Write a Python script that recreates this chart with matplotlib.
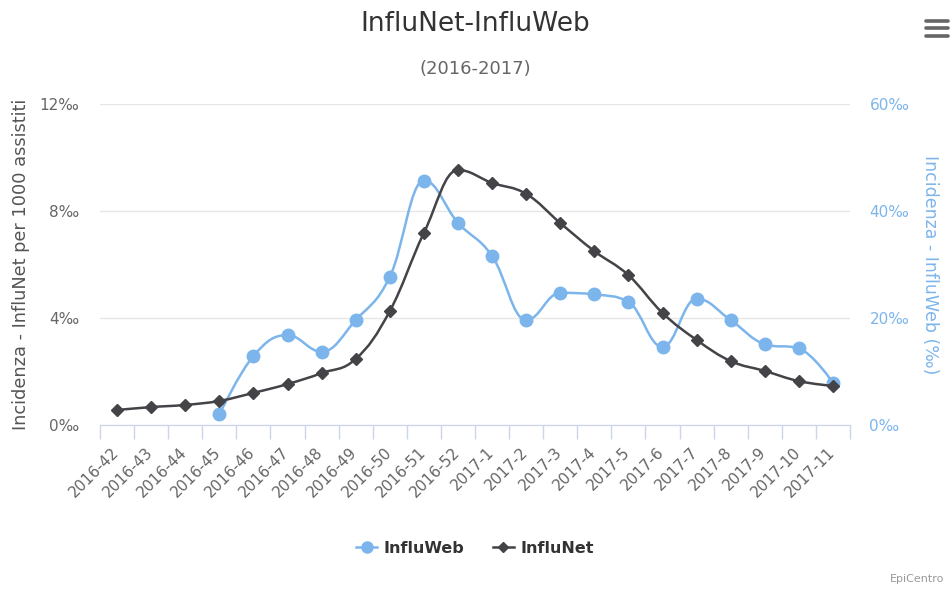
import numpy as np
import matplotlib.pyplot as plt
from matplotlib.path import Path
from matplotlib.patches import PathPatch
from matplotlib.lines import Line2D
from matplotlib.transforms import ScaledTranslation

weeks = ['2016-42', '2016-43', '2016-44', '2016-45', '2016-46', '2016-47', '2016-48',
         '2016-49', '2016-50', '2016-51', '2016-52', '2017-1', '2017-2', '2017-3',
         '2017-4', '2017-5', '2017-6', '2017-7', '2017-8', '2017-9', '2017-10', '2017-11']
influnet = [0.56, 0.67, 0.75, 0.9, 1.2, 1.53, 1.94, 2.47, 4.26, 7.18, 9.53, 9.05,
            8.64, 7.55, 6.5, 5.6, 4.19, 3.18, 2.39, 2.02, 1.64, 1.46]
# InfluWeb starts at 2016-45
influweb_weeks = weeks[3:]
influweb = [2.0, 12.9, 16.8, 13.7, 19.6, 27.7, 45.7, 37.8, 31.6, 19.6, 24.7, 24.4,
            23.0, 14.6, 23.6, 19.6, 15.1, 14.3, 7.9]

BLUE = '#7cb5ec'
DARK = '#434348'


def spline_path(xs, ys, smoothing=1.5):
    # Highcharts-style spline: cubic bezier with tangent-aligned control points
    n = len(xs)
    rc = [None] * n
    lc = [None] * n
    for i in range(n):
        px, py = xs[i], ys[i]
        if 0 < i < n - 1:
            lx, ly = xs[i - 1], ys[i - 1]
            nx, ny = xs[i + 1], ys[i + 1]
            d = smoothing + 1
            lcx = (smoothing * px + lx) / d
            lcy = (smoothing * py + ly) / d
            rcx = (smoothing * px + nx) / d
            rcy = (smoothing * py + ny) / d
            corr = (rcy - lcy) * (rcx - px) / (rcx - lcx) + py - rcy
            lcy += corr
            rcy += corr
            if lcy > ly and lcy > py:
                lcy = max(ly, py)
                rcy = 2 * py - lcy
            elif lcy < ly and lcy < py:
                lcy = min(ly, py)
                rcy = 2 * py - lcy
            if rcy > ny and rcy > py:
                rcy = max(ny, py)
                lcy = 2 * py - rcy
            elif rcy < ny and rcy < py:
                rcy = min(ny, py)
                lcy = 2 * py - rcy
            lc[i] = (lcx, lcy)
            rc[i] = (rcx, rcy)
        else:
            lc[i] = (px, py)
            rc[i] = (px, py)
    verts = [(xs[0], ys[0])]
    codes = [Path.MOVETO]
    for i in range(1, n):
        verts += [rc[i - 1], lc[i], (xs[i], ys[i])]
        codes += [Path.CURVE4] * 3
    return Path(verts, codes)


plt.rcParams['font.family'] = 'DejaVu Sans'
fig = plt.figure(figsize=(9.51, 5.92), dpi=100)
ax2 = fig.add_axes([0.1052, 0.2821, 0.7886, 0.5422])
ax = ax2.twinx()
ax.yaxis.tick_left()
ax.yaxis.set_label_position('left')
ax2.yaxis.tick_right()
ax2.yaxis.set_label_position('right')
ax.set_zorder(2)
ax2.set_zorder(1)
ax.patch.set_visible(False)

xn = np.arange(len(weeks))
xw = np.arange(3, len(weeks))

ax2.add_patch(PathPatch(spline_path(xw, influweb), fill=False, ec=BLUE, lw=1.8,
                        capstyle='round', joinstyle='round'))
ax2.plot(xw, influweb, ls='none', marker='o', ms=9, color=BLUE)
ax.add_patch(PathPatch(spline_path(xn, influnet), fill=False, ec=DARK, lw=1.8,
                       capstyle='round', joinstyle='round'))
ax.plot(xn, influnet, ls='none', marker='D', ms=6.5, color=DARK)

n = len(weeks)
for a in (ax, ax2):
    a.set_xlim(-0.5, n - 0.5)
    for s in ('top', 'left', 'right'):
        a.spines[s].set_visible(False)
    a.spines['bottom'].set_color('#ccd6eb')
ax.set_ylim(0, 12)
ax2.set_ylim(0, 60)
ax.set_yticks([0, 4, 8, 12])
ax.set_yticklabels([f'{v}‰' for v in [0, 4, 8, 12]])
ax2.set_yticks([0, 20, 40, 60])
ax2.set_yticklabels([f'{v}‰' for v in [0, 20, 40, 60]])
ax.tick_params(axis='y', length=0, pad=15, labelsize=11, labelcolor='#666666')
ax2.tick_params(axis='y', length=0, pad=14, labelsize=11, labelcolor=BLUE)
ax2.grid(axis='y', color='#e6e6e6', lw=1)
ax2.set_axisbelow(True)

# x axis lives on ax2 (twinx hides the x axis of ax)
ax2.set_xticks(np.arange(-0.5, n, 1.0))
ax2.set_xticklabels([])
ax2.set_xticks(xn, minor=True)
ax2.set_xticklabels(weeks, minor=True, rotation=45, ha='right', rotation_mode='anchor')
ax2.tick_params(axis='x', which='major', length=10, width=1, color='#ccd6eb', direction='out')
ax2.tick_params(axis='x', which='minor', length=0, pad=14, labelsize=11, labelcolor='#666666')
shift = ScaledTranslation(-0.06, 0, fig.dpi_scale_trans)
for lab in ax2.xaxis.get_minorticklabels():
    lab.set_transform(lab.get_transform() + shift)

ax.set_ylabel('Incidenza - InfluNet per 1000 assistiti', fontsize=12.8, color='#555555',
              labelpad=7)
ax2.set_ylabel('Incidenza - InfluWeb (‰)', fontsize=12.5, color=BLUE, rotation=270,
               labelpad=21)

fig.text(0.4995, 0.96, 'InfluNet-InfluWeb', ha='center', va='center', fontsize=19,
         color='#333333')
fig.text(0.4995, 0.884, '(2016-2017)', ha='center', va='center', fontsize=13, color='#666666')

handles = [Line2D([], [], color=BLUE, lw=1.8, marker='o', ms=8),
           Line2D([], [], color=DARK, lw=1.8, marker='D', ms=5.5)]
fig.legend(handles, ['InfluWeb', 'InfluNet'], loc='center', bbox_to_anchor=(0.4995, 0.074),
           ncol=2, frameon=False, handlelength=1.3, columnspacing=1.8, handletextpad=0.4,
           prop={'weight': 'bold', 'size': 11.5}, labelcolor='#333333')

fig.text(0.936, 0.013, 'EpiCentro', ha='left', va='bottom', fontsize=8, color='#999999')

for yy in (0.9645, 0.9527, 0.939):
    fig.add_artist(Line2D([0.974, 0.997], [yy, yy], color='#666666', lw=2.6,
                          solid_capstyle='round', transform=fig.transFigure))

fig.savefig('out.png', dpi=100)
